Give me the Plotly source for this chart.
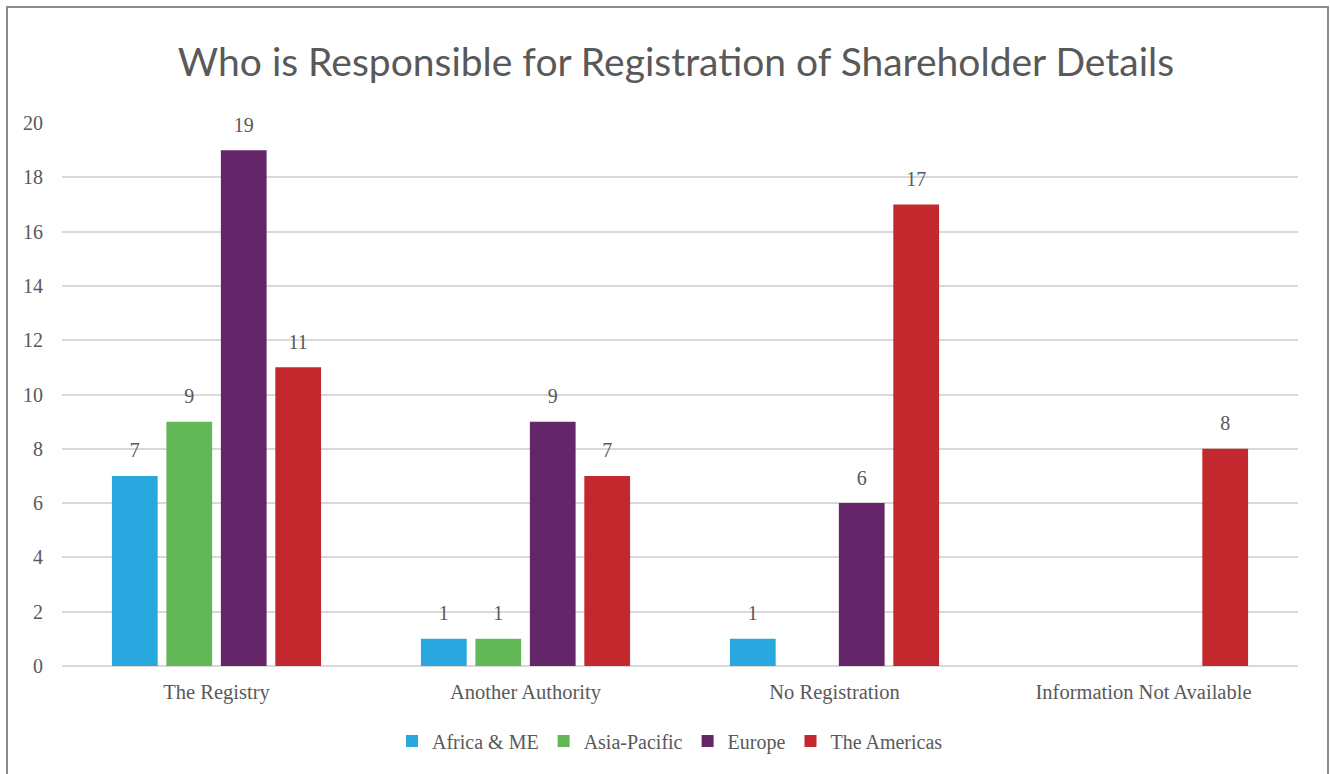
import plotly.graph_objects as go

categories = ["The Registry", "Another Authority", "No Registration", "Information Not Available"]
series_names = ["Africa & ME", "Asia-Pacific", "Europe", "The Americas"]
africa_me = [7, 1, 1, None]
asia_pacific = [9, 1, None, None]
europe = [19, 9, 6, None]
americas = [11, 7, 17, 8]
y_ticks = [0, 2, 4, 6, 8, 10, 12, 14, 16, 18, 20]

colors = ["#29A8E0", "#62B757", "#642669", "#C4282F"]
series_values = [africa_me, asia_pacific, europe, americas]

TEXT = "#595959"
SERIF = "Liberation Serif, DejaVu Serif, serif"
BARGAP = 0.295

fig = go.Figure()
for name, vals, col in zip(series_names, series_values, colors):
    fig.add_trace(go.Bar(
        name=name, x=categories, y=vals,
        marker=dict(color=col, line=dict(width=0)),
        hoverinfo="skip",
    ))
# value labels, aligned with the grouped bars
for name, vals in zip(series_names, series_values):
    fig.add_trace(go.Scatter(
        name=name + " labels", x=categories, y=vals,
        mode="markers+text",
        marker=dict(size=20, color="rgba(0,0,0,0)"),
        text=[("" if v is None else str(v)) for v in vals],
        textposition="top center",
        textfont=dict(family=SERIF, size=20, color=TEXT),
        cliponaxis=False, showlegend=False, hoverinfo="skip",
    ))

W, H = 1330, 774
ml, mr, mt, mb = 62, 32, 123, 108
pw, ph = W - ml - mr, H - mt - mb

def px_to_paper_x(px):
    return (px - ml) / pw

def px_to_paper_y(py):
    return (H - mb - py) / ph

fig.update_layout(
    width=W, height=H,
    margin=dict(l=ml, r=mr, t=mt, b=mb),
    paper_bgcolor="white", plot_bgcolor="white",
    barmode="group", bargap=BARGAP, bargroupgap=0.16,
    scattermode="group", scattergap=BARGAP,
    title=dict(text="Who is Responsible for Registration of Shareholder Details",
               font=dict(family="Lato, Open Sans, sans-serif", size=39, color=TEXT),
               x=px_to_paper_x(676), xref="paper", xanchor="center",
               y=1 - 62 / H, yref="container", yanchor="middle"),
    xaxis=dict(tickfont=dict(family=SERIF, size=20.5, color=TEXT),
               showgrid=False, showline=False, zeroline=False,
               ticks="", ticklabelstandoff=11),
    yaxis=dict(range=[0, 20], tickvals=y_ticks,
               tickfont=dict(family=SERIF, size=20, color=TEXT),
               showgrid=True, gridcolor="#D9D9D9", gridwidth=1.5,
               zeroline=True, zerolinecolor="#D9D9D9", zerolinewidth=1.5,
               showline=False, ticks="", ticklabelstandoff=18),
    legend=dict(orientation="h", x=px_to_paper_x(670), xanchor="center",
                y=px_to_paper_y(741), yanchor="middle",
                font=dict(family=SERIF, size=20, color=TEXT),
                itemwidth=30, traceorder="normal"),
    showlegend=True,
    shapes=[dict(type="rect", xref="paper", yref="paper",
                 x0=px_to_paper_x(7), x1=px_to_paper_x(1328),
                 y0=px_to_paper_y(800), y1=px_to_paper_y(7),
                 line=dict(color="#8C8C8C", width=2), fillcolor="rgba(0,0,0,0)",
                 layer="below")],
)

fig.write_html("out.html", config={"displayModeBar": False},
               post_script="document.body.style.margin='0';document.body.style.overflow='hidden';")
